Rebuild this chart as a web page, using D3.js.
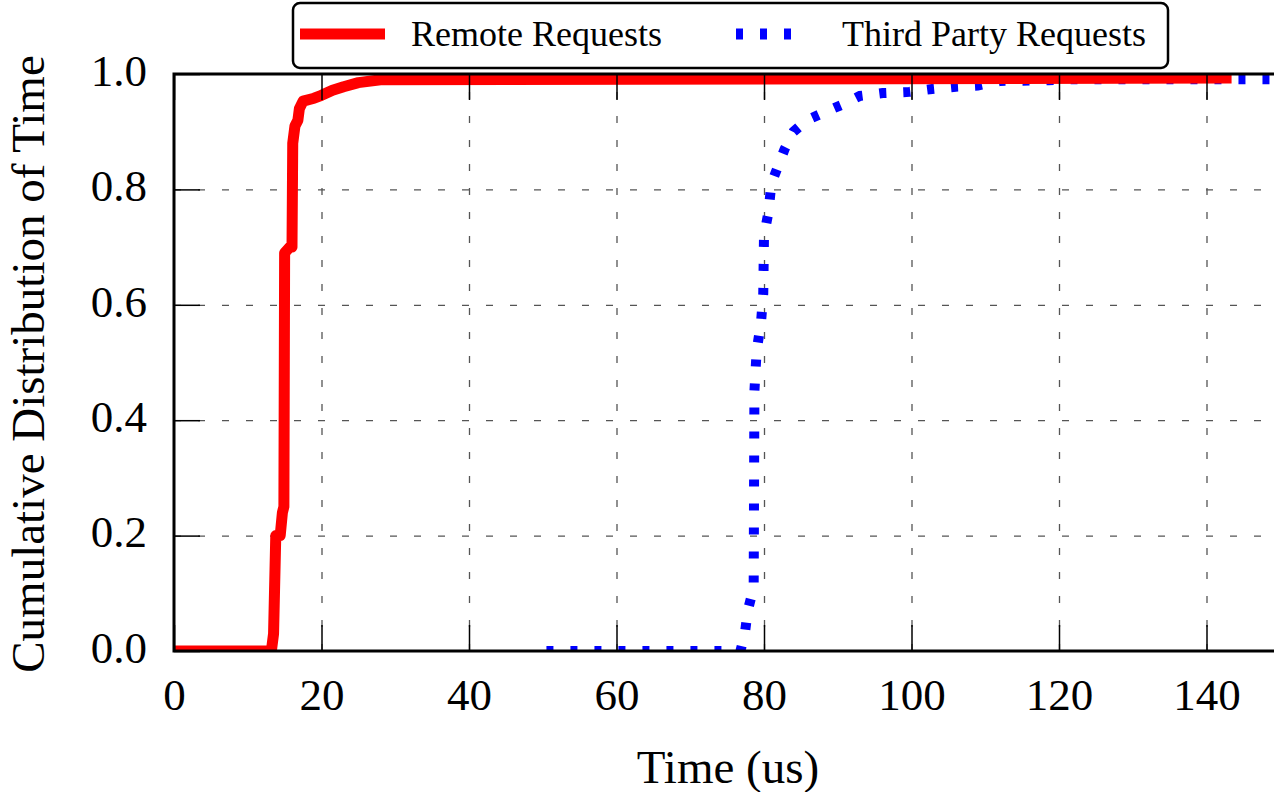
<!DOCTYPE html>
<html>
<head>
<meta charset="utf-8">
<script src="https://cdn.jsdelivr.net/npm/d3@7"></script>
<style>
  body { margin: 0; background: #fff; }
  svg text { font-family: "Liberation Serif", "Times New Roman", serif; fill: #000; }
</style>
</head>
<body>
<script>
// CDF of request time
var remoteTime = [0, 13.2, 13.5, 13.8, 14.4, 14.7, 14.9, 15.0, 15.7, 16.0, 16.1, 16.4, 16.8, 17.0, 17.5, 19, 20, 21.5, 23, 25, 28, 143.4];
var remoteCdf  = [0, 0, 0.03, 0.2, 0.2, 0.24, 0.25, 0.69, 0.7, 0.7, 0.88, 0.91, 0.92, 0.94, 0.953, 0.958, 0.963, 0.972, 0.978, 0.985, 0.99, 0.993];

var thirdTime = [50.5, 76.8, 77.4, 77.8, 78.6, 78.7, 79.0, 79.6, 79.9, 80.0, 80.6, 81.0, 81.9, 82.8, 84.0, 85.8, 88.6, 90.8, 93, 96.1, 99.7, 102.8, 106, 109, 112, 118.6, 122, 152];
var thirdCdf  = [0, 0, 0.03, 0.07, 0.11, 0.45, 0.52, 0.57, 0.62, 0.72, 0.76, 0.81, 0.84, 0.87, 0.9, 0.92, 0.936, 0.948, 0.962, 0.967, 0.969, 0.974, 0.978, 0.98, 0.988, 0.989, 0.991, 0.991];

var xTicks = [0, 20, 40, 60, 80, 100, 120, 140];
var yTicks = [0, 0.2, 0.4, 0.6, 0.8, 1.0];
var seriesNames = ["Remote Requests", "Third Party Requests"];

var outWidth = 1274, outHeight = 792;
var margin = {top: 74, left: 174},
    width = 150 * 7.375,
    height = 577;
var serif = "Liberation Serif";

var xScale = d3.scaleLinear().domain([0, 150]).range([0, width]);
var yScale = d3.scaleLinear().domain([0, 1]).range([height, 0]);

var svg = d3.select("body").append("svg")
    .attr("width", outWidth)
    .attr("height", outHeight);

svg.append("defs").append("clipPath").attr("id", "plotclip")
  .append("rect").attr("width", width).attr("height", height);

var g = svg.append("g")
    .attr("transform", "translate(" + margin.left + "," + margin.top + ")");

// grid
var gridX = g.append("g").attr("transform", "translate(0," + height + ")")
    .call(d3.axisBottom(xScale).tickValues(xTicks.slice(1)).tickSize(-height).tickFormat(""));
var gridY = g.append("g")
    .call(d3.axisLeft(yScale).tickValues(yTicks.slice(1, 5)).tickSize(-width).tickFormat(""));
g.selectAll(".domain").remove();
[gridX, gridY].forEach(function(a) {
  a.selectAll("line").attr("stroke", "#555").attr("stroke-width", 1.3).attr("stroke-dasharray", "7,17");
});

// lines
var line = d3.line().x(function(d) { return xScale(d[0]); }).y(function(d) { return yScale(d[1]); });
var plot = g.append("g").attr("clip-path", "url(#plotclip)");

plot.append("path")
    .datum(thirdTime.map(function(t, i) { return [t, thirdCdf[i]]; }))
    .attr("d", line)
    .attr("fill", "none").attr("stroke", "#0000ff").attr("stroke-width", 10)
    .attr("stroke-dasharray", "7,17");

plot.append("path")
    .datum(remoteTime.map(function(t, i) { return [t, remoteCdf[i]]; }))
    .attr("d", line)
    .attr("fill", "none").attr("stroke", "#ff0000").attr("stroke-width", 11)
    .attr("stroke-linejoin", "round");

// axes with inward ticks
var tickLen = 26;
var xAxis = g.append("g").attr("transform", "translate(0," + height + ")")
    .call(d3.axisBottom(xScale).tickValues(xTicks).tickSize(-tickLen).tickPadding(27).tickFormat(d3.format("d")));
var xTop = g.append("g")
    .call(d3.axisTop(xScale).tickValues(xTicks).tickSize(-tickLen).tickFormat(""));
var yAxis = g.append("g")
    .call(d3.axisLeft(yScale).tickValues(yTicks).tickSize(-tickLen).tickPadding(27).tickFormat(d3.format(".1f")));
[xAxis, xTop, yAxis].forEach(function(a) {
  a.attr("font-family", serif).attr("font-size", 45);
  a.selectAll(".domain").remove();
  a.selectAll("line").attr("stroke", "#000").attr("stroke-width", 1.5);
  a.selectAll("text").attr("fill", "#000");
});
yAxis.selectAll("text").attr("dy", "0.25em");

// frame
g.append("rect").attr("width", width).attr("height", height)
    .attr("fill", "none").attr("stroke", "#000").attr("stroke-width", 3);

// axis titles
svg.append("text")
    .attr("x", 728).attr("y", 783)
    .attr("font-family", serif).style("text-anchor", "middle").style("font-size", "47px")
    .text("Time (us)");
svg.append("text")
    .attr("transform", "translate(44," + 364 + ") rotate(-90)")
    .attr("font-family", serif).style("text-anchor", "middle").style("font-size", "47px")
    .text("Cumulative Distribution of Time");

// legend
var legend = svg.append("g").attr("font-family", serif);
legend.append("rect")
    .attr("x", 293).attr("y", 3).attr("width", 875).attr("height", 65)
    .attr("rx", 7).attr("fill", "#fff").attr("stroke", "#000").attr("stroke-width", 2.5);
legend.append("line").attr("x1", 300).attr("x2", 385).attr("y1", 34).attr("y2", 34)
    .attr("stroke", "#ff0000").attr("stroke-width", 11);
legend.append("text").attr("x", 411).attr("y", 46).style("font-size", "36px").text(seriesNames[0]);
legend.append("line").attr("x1", 736).attr("x2", 800).attr("y1", 34).attr("y2", 34)
    .attr("stroke", "#0000ff").attr("stroke-width", 11).attr("stroke-dasharray", "7,17");
legend.append("text").attr("x", 842).attr("y", 46).style("font-size", "36px").text(seriesNames[1]);
</script>
</body>
</html>
